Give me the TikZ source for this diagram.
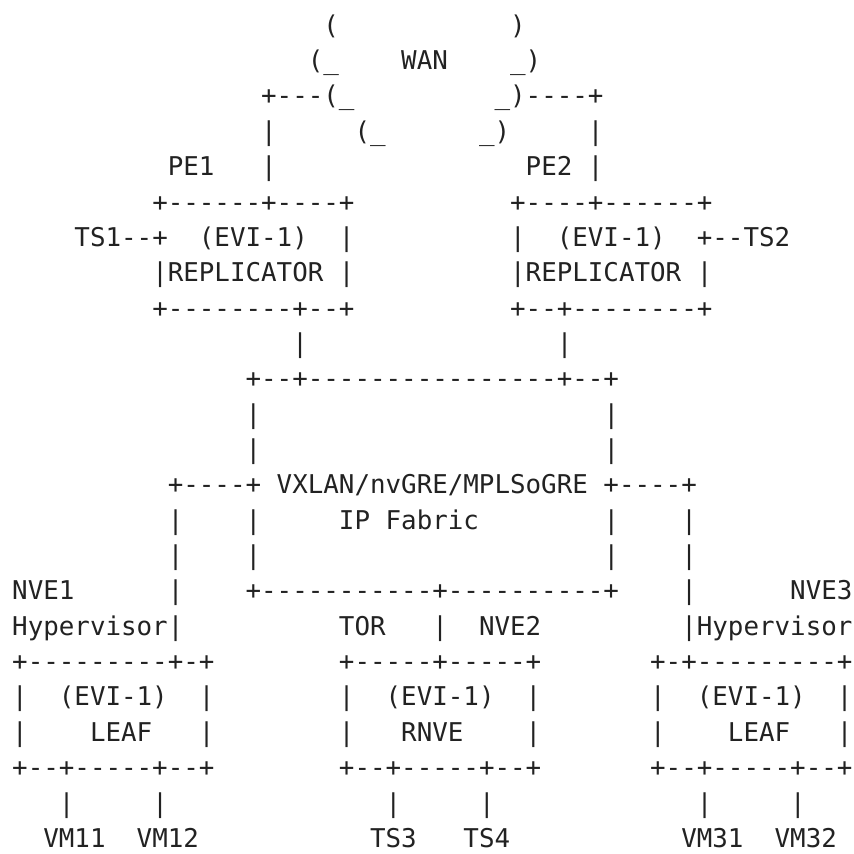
\documentclass[tikz,border=0pt]{standalone}
\usepackage{fontspec}
\setmonofont{DejaVu Sans Mono}
\definecolor{ink}{HTML}{222222}
\newcommand\blank[1]{\hspace*{#1\fontcharwd\font`M}}
\tikzset{
  asciirow/.style={anchor=base west, inner sep=0pt, outer sep=0pt, text=ink,
    text depth=0pt,
    font=\ttfamily\frenchspacing\fontsize{25.845pt}{30pt}\selectfont}
}
\newcommand\asciiline[2]{\node[asciirow] (r#1) at (12.22,{819.7-35.35*(#1-1)}) {#2};}
\begin{document}
\begin{tikzpicture}[x=1pt,y=1pt]
\useasboundingbox (0,0) rectangle (854,854);
\fill[white] (0,0) rectangle (854,854);
\asciiline{1}{\blank{20}(\blank{11})}
\asciiline{2}{\blank{19}(\_\blank{4}WAN\blank{4}\_)}
\asciiline{3}{\blank{16}+---(\_\blank{9}\_)----+}
\asciiline{4}{\blank{16}|\blank{5}(\_\blank{6}\_)\blank{5}|}
\asciiline{5}{\blank{10}PE1\blank{3}|\blank{16}PE2\blank{1}|}
\asciiline{6}{\blank{9}+------+----+\blank{10}+----+------+}
\asciiline{7}{\blank{4}TS1--+\blank{2}(EVI-1)\blank{2}|\blank{10}|\blank{2}(EVI-1)\blank{2}+--TS2}
\asciiline{8}{\blank{9}|REPLICATOR\blank{1}|\blank{10}|REPLICATOR\blank{1}|}
\asciiline{9}{\blank{9}+--------+--+\blank{10}+--+--------+}
\asciiline{10}{\blank{18}|\blank{16}|}
\asciiline{11}{\blank{15}+--+----------------+--+}
\asciiline{12}{\blank{15}|\blank{22}|}
\asciiline{13}{\blank{15}|\blank{22}|}
\asciiline{14}{\blank{10}+----+\blank{1}VXLAN/nvGRE/MPLSoGRE\blank{1}+----+}
\asciiline{15}{\blank{10}|\blank{4}|\blank{5}IP\blank{1}Fabric\blank{8}|\blank{4}|}
\asciiline{16}{\blank{10}|\blank{4}|\blank{22}|\blank{4}|}
\asciiline{17}{NVE1\blank{6}|\blank{4}+-----------+----------+\blank{4}|\blank{6}NVE3}
\asciiline{18}{Hypervisor|\blank{10}TOR\blank{3}|\blank{2}NVE2\blank{9}|Hypervisor}
\asciiline{19}{+---------+-+\blank{8}+-----+-----+\blank{7}+-+---------+}
\asciiline{20}{|\blank{2}(EVI-1)\blank{2}|\blank{8}|\blank{2}(EVI-1)\blank{2}|\blank{7}|\blank{2}(EVI-1)\blank{2}|}
\asciiline{21}{|\blank{4}LEAF\blank{3}|\blank{8}|\blank{3}RNVE\blank{4}|\blank{7}|\blank{4}LEAF\blank{3}|}
\asciiline{22}{+--+-----+--+\blank{8}+--+-----+--+\blank{7}+--+-----+--+}
\asciiline{23}{\blank{3}|\blank{5}|\blank{14}|\blank{5}|\blank{13}|\blank{5}|}
\asciiline{24}{\blank{2}VM11\blank{2}VM12\blank{11}TS3\blank{3}TS4\blank{11}VM31\blank{2}VM32}
\end{tikzpicture}
\end{document}
